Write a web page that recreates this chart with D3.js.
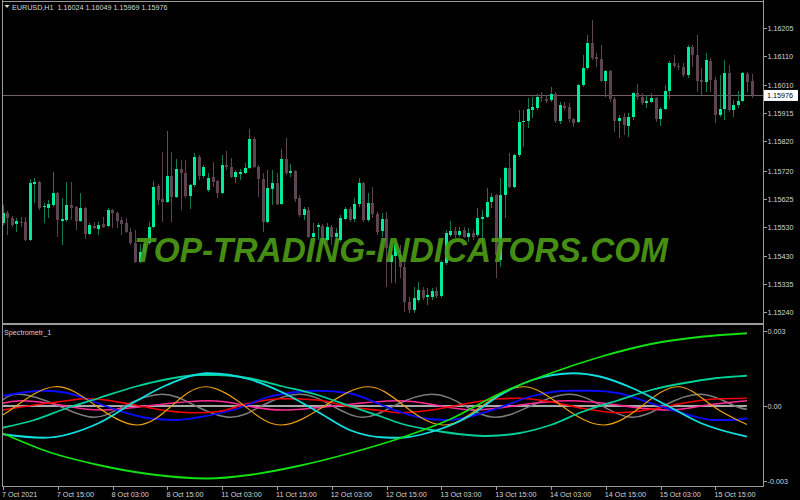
<!DOCTYPE html>
<meta charset="utf-8">
<style>
 body { margin: 0; background: #000; }
 svg { display: block; }
 .axis text { fill: #d6d6d6; font: 7.2px "Liberation Sans", Arial, sans-serif; }
 .axis line { stroke: #a0a0a0; shape-rendering: crispEdges; }
 .axis path { display: none; }
 .frame { stroke: #9a9a9a; shape-rendering: crispEdges; }
 .series { fill: none; }
</style>
<body>
<script src="https://d3js.org/d3.v7.min.js"></script>
<script>
// EURUSD H1 bars (oldest first)
var open = [1.15542,1.15576,1.15559,1.15538,1.15545,1.15545,1.15484,1.15674,1.15681,1.15596,
  1.15593,1.15603,1.15644,1.15549,1.15552,1.15603,1.15596,1.15549,1.15593,1.15504,
  1.15532,1.15521,1.15538,1.15532,1.15586,1.15576,1.15552,1.15542,1.15511,1.15474,
  1.15409,1.15443,1.15474,1.15528,1.15668,1.15623,1.15613,1.15702,1.15630,1.15725,
  1.15712,1.15634,1.15671,1.15766,1.15702,1.15654,1.15698,1.15685,1.15644,1.15739,
  1.15732,1.15698,1.15708,1.15712,1.15729,1.15827,1.15732,1.15691,1.15545,1.15657,
  1.15678,1.15606,1.15759,1.15712,1.15719,1.15627,1.15569,1.15586,1.15494,1.15528,
  1.15532,1.15484,1.15528,1.15494,1.15484,1.15555,1.15589,1.15555,1.15606,1.15678,
  1.15552,1.15610,1.15572,1.15515,1.15555,1.15409,1.15430,1.15433,1.15392,1.15273,
  1.15246,1.15283,1.15317,1.15290,1.15290,1.15311,1.15294,1.15406,1.15501,1.15515,
  1.15501,1.15518,1.15494,1.15508,1.15501,1.15555,1.15562,1.15613,1.15637,1.15416,
  1.15637,1.15729,1.15664,1.15773,1.15885,1.15889,1.15926,1.15933,1.15970,1.15963,
  1.15960,1.15980,1.15889,1.15940,1.15936,1.15895,1.15885,1.16011,1.16069,1.16154,
  1.16106,1.16099,1.16025,1.16059,1.15963,1.15889,1.15902,1.15872,1.15902,1.15984,
  1.15970,1.15950,1.15953,1.15967,1.15895,1.15929,1.15991,1.16086,1.16076,1.16072,
  1.16045,1.16140,1.16113,1.16028,1.16021,1.16093,1.16028,1.15909,1.15929,1.16052,
  1.15926,1.15943,1.15957,1.16048,1.16024];
var high = [1.15603,1.15583,1.15566,1.15559,1.15562,1.15562,1.15691,1.15695,1.15685,1.15610,
  1.15620,1.15715,1.15647,1.15627,1.15681,1.15681,1.15600,1.15644,1.15596,1.15542,
  1.15545,1.15545,1.15562,1.15593,1.15589,1.15579,1.15562,1.15559,1.15525,1.15518,
  1.15470,1.15491,1.15545,1.15685,1.15674,1.15783,1.15855,1.15783,1.15759,1.15756,
  1.15756,1.15674,1.15780,1.15773,1.15739,1.15712,1.15749,1.15688,1.15773,1.15787,
  1.15763,1.15722,1.15725,1.15746,1.15861,1.15834,1.15739,1.15712,1.15722,1.15722,
  1.15712,1.15793,1.15831,1.15742,1.15722,1.15637,1.15596,1.15596,1.15542,1.15542,
  1.15538,1.15542,1.15535,1.15525,1.15569,1.15596,1.15596,1.15627,1.15695,1.15681,
  1.15644,1.15664,1.15579,1.15576,1.15579,1.15457,1.15477,1.15467,1.15409,1.15290,
  1.15324,1.15341,1.15324,1.15321,1.15321,1.15324,1.15416,1.15518,1.15549,1.15528,
  1.15528,1.15528,1.15525,1.15518,1.15593,1.15586,1.15661,1.15644,1.15640,1.15695,
  1.15732,1.15780,1.15776,1.15926,1.15926,1.15967,1.15970,1.15980,1.15987,1.15977,
  1.16004,1.15987,1.15953,1.15953,1.15950,1.15899,1.16014,1.16113,1.16181,1.16232,
  1.16120,1.16147,1.16062,1.16062,1.15970,1.15909,1.15916,1.15916,1.15987,1.16014,
  1.15984,1.15977,1.15984,1.15970,1.15936,1.16011,1.16093,1.16113,1.16086,1.16086,
  1.16147,1.16147,1.16181,1.16069,1.16120,1.16103,1.16038,1.16045,1.16096,1.16079,
  1.15960,1.15991,1.16055,1.16055,1.16049];
var low = [1.15535,1.15501,1.15528,1.15511,1.15528,1.15481,1.15481,1.15610,1.15586,1.15542,
  1.15559,1.15596,1.15494,1.15467,1.15545,1.15552,1.15518,1.15545,1.15487,1.15501,
  1.15521,1.15501,1.15525,1.15528,1.15525,1.15525,1.15501,1.15508,1.15467,1.15406,
  1.15406,1.15430,1.15467,1.15525,1.15603,1.15545,1.15610,1.15545,1.15627,1.15586,
  1.15627,1.15589,1.15664,1.15688,1.15695,1.15647,1.15664,1.15627,1.15640,1.15722,
  1.15695,1.15678,1.15688,1.15708,1.15725,1.15729,1.15630,1.15511,1.15542,1.15603,
  1.15603,1.15603,1.15705,1.15698,1.15613,1.15562,1.15552,1.15491,1.15484,1.15484,
  1.15467,1.15477,1.15467,1.15477,1.15477,1.15552,1.15545,1.15545,1.15596,1.15545,
  1.15545,1.15559,1.15501,1.15494,1.15324,1.15338,1.15338,1.15355,1.15239,1.15236,
  1.15236,1.15273,1.15280,1.15263,1.15280,1.15287,1.15287,1.15399,1.15494,1.15491,
  1.15494,1.15491,1.15477,1.15484,1.15494,1.15467,1.15559,1.15593,1.15355,1.15392,
  1.15559,1.15661,1.15661,1.15766,1.15800,1.15865,1.15899,1.15926,1.15953,1.15950,
  1.15953,1.15882,1.15878,1.15926,1.15885,1.15868,1.15882,1.16004,1.16062,1.16096,
  1.16072,1.16021,1.15970,1.15953,1.15851,1.15831,1.15841,1.15834,1.15892,1.15960,
  1.15943,1.15933,1.15950,1.15885,1.15872,1.15926,1.15963,1.16069,1.16062,1.16038,
  1.16035,1.16072,1.15987,1.15977,1.15987,1.15987,1.15882,1.15902,1.15892,1.15919,
  1.15902,1.15933,1.15953,1.15987,1.15969];
var close = [1.15576,1.15559,1.15535,1.15549,1.15542,1.15484,1.15678,1.15681,1.15593,1.15600,
  1.15606,1.15644,1.15552,1.15555,1.15603,1.15593,1.15549,1.15593,1.15504,1.15535,
  1.15525,1.15535,1.15528,1.15586,1.15576,1.15549,1.15538,1.15511,1.15474,1.15409,
  1.15443,1.15470,1.15528,1.15664,1.15620,1.15613,1.15702,1.15630,1.15725,1.15712,
  1.15634,1.15671,1.15766,1.15702,1.15732,1.15695,1.15681,1.15644,1.15739,1.15732,
  1.15698,1.15715,1.15715,1.15729,1.15827,1.15732,1.15691,1.15545,1.15661,1.15678,
  1.15606,1.15759,1.15712,1.15719,1.15623,1.15569,1.15589,1.15494,1.15508,1.15535,
  1.15484,1.15528,1.15494,1.15508,1.15559,1.15589,1.15552,1.15606,1.15678,1.15552,
  1.15610,1.15572,1.15511,1.15555,1.15457,1.15433,1.15470,1.15392,1.15273,1.15246,
  1.15287,1.15317,1.15287,1.15297,1.15311,1.15294,1.15409,1.15508,1.15515,1.15501,
  1.15515,1.15494,1.15508,1.15494,1.15559,1.15562,1.15613,1.15630,1.15433,1.15637,
  1.15729,1.15664,1.15773,1.15885,1.15889,1.15929,1.15936,1.15970,1.15967,1.15957,
  1.15980,1.15889,1.15943,1.15933,1.15895,1.15882,1.16011,1.16069,1.16154,1.16103,
  1.16099,1.16025,1.16059,1.15963,1.15889,1.15899,1.15875,1.15902,1.15984,1.15970,
  1.15950,1.15957,1.15967,1.15895,1.15929,1.15991,1.16086,1.16076,1.16072,1.16045,
  1.16140,1.16113,1.16025,1.16021,1.16096,1.16028,1.15909,1.15929,1.16052,1.15926,
  1.15943,1.15957,1.16052,1.16021,1.15976];

var timeLabels = ["7 Oct 2021", "7 Oct 15:00", "8 Oct 03:00", "8 Oct 15:00", "11 Oct 03:00",
  "11 Oct 15:00", "12 Oct 03:00", "12 Oct 15:00", "13 Oct 03:00", "13 Oct 15:00",
  "14 Oct 03:00", "14 Oct 15:00", "15 Oct 03:00", "15 Oct 15:00"];
var timeTickBars = [0, 12, 24, 36, 48, 60, 72, 84, 96, 108, 120, 132, 144, 156];
var priceTicks = [1.16205, 1.16110, 1.16010, 1.15915, 1.15820, 1.15720, 1.15625,
  1.15530, 1.15430, 1.15335, 1.15240];
var indTicks = [0.003, 0, -0.003];
var indTickLabels = ["0.003", "0.00", "-0.003"];

// Spectrometr_1 components as [bar, value]
var lime = [[0,-0.00109],[10,-0.00183],[21,-0.00236],[32,-0.00272],[45,-0.00290],[54,-0.00276],
  [65,-0.00239],[76,-0.00189],[87,-0.00129],[98,-0.00053],[109,0.00051],[120,0.00131],
  [131,0.00197],[142,0.00248],[153,0.00277],[163,0.00291]];
var cyan = [[0,-0.00113],[9,-0.00127],[21,-0.00069],[29,0.00017],[36,0.00084],[45,0.00131],
  [54,0.00107],[61,0.00057],[69,-0.00023],[76,-0.00096],[83,-0.00125],[87,-0.00127],
  [94,-0.00103],[102,-0.00043],[109,0.00044],[116,0.00104],[125,0.00131],[131,0.00117],
  [138,0.00071],[146,-0.00003],[153,-0.00069],[163,-0.00123]];
var teal = [[0,-0.00087],[7,-0.00056],[14,-0.00009],[21,0.00031],[29,0.00077],[36,0.00107],
  [43,0.00124],[47,0.00124],[54,0.00111],[61,0.00080],[69,0.00044],[76,0.00000],
  [83,-0.00043],[87,-0.00069],[94,-0.00096],[102,-0.00116],[106,-0.00120],[113,-0.00109],
  [120,-0.00076],[127,-0.00023],[135,0.00024],[142,0.00064],[149,0.00091],[156,0.00111],
  [163,0.00121]];
var blue = [[0,0.00040],[9,0.00061],[14,0.00053],[19,0.00024],[25,-0.00016],[32,-0.00049],
  [38,-0.00056],[43,-0.00045],[51,-0.00013],[58,0.00035],[65,0.00057],[69,0.00061],
  [76,0.00051],[83,0.00004],[87,-0.00024],[94,-0.00053],[98,-0.00056],[102,-0.00043],
  [109,-0.00005],[116,0.00040],[124,0.00061],[129,0.00061],[135,0.00051],[142,0.00011],
  [149,-0.00029],[156,-0.00056],[160,-0.00056],[163,-0.00049]];
var red = [[0,-0.00016],[7,0.00004],[14,0.00021],[18,0.00029],[21,0.00027],[29,0.00004],
  [36,-0.00019],[42,-0.00027],[47,-0.00023],[54,0.00011],[61,0.00029],[69,0.00024],
  [76,-0.00003],[83,-0.00019],[87,-0.00027],[94,-0.00016],[102,0.00011],[109,0.00029],
  [113,0.00031],[120,0.00017],[127,-0.00009],[135,-0.00027],[142,-0.00013],[149,0.00011],
  [156,0.00028],[163,0.00031]];
var pink = [[0,0.00011],[4.5,0.00021],[13,0.00003],[21.5,-0.00016],[33,0.00003],[45,0.00021],
  [53,0.00003],[61.5,-0.00016],[74,0.00003],[86.5,0.00021],[95,0.00003],[103.5,-0.00016],
  [113,0.00003],[124,0.00021],[135,0.00003],[145.5,-0.00016],[154,0.00003],[163,0.00021]];
var gray = [[0,0.00024],[4,0.00047],[12,0.00003],[20,-0.00045],[27,0.00003],[35,0.00047],
  [42,0.00003],[50,-0.00045],[57,0.00003],[65,0.00047],[72,0.00003],[79,-0.00045],
  [86,0.00003],[94,0.00047],[101,0.00003],[108,-0.00045],[116,0.00003],[124,0.00047],
  [131,0.00003],[138,-0.00045],[145,0.00003],[153,0.00047],[160,0.00003],[163,-0.00013]];
var orange = [[0,-0.00036],[3,0.00000],[11.5,0.00077],[20.5,0.00000],[29.5,-0.00076],[37,0.00000],
  [44.5,0.00077],[53,0.00000],[61,-0.00076],[70.5,0.00000],[80,0.00077],[88,0.00000],
  [96.5,-0.00076],[105,0.00000],[114,0.00077],[122.5,0.00000],[131.5,-0.00076],[140,0.00000],
  [148,0.00077],[155.5,0.00000],[163,-0.00074]];
var zero = [[0,0],[163,0]];

// Layout
var W = 800, H = 500;
var left = 2, right = 763, mainTop = 1.5, mainBottom = 323, subTop = 325, subBottom = 486;

var svg = d3.select("body").append("svg")
  .attr("width", W)
  .attr("height", H)
  .style("background", "#000");

// Scales
var x = d3.scaleLinear().domain([0, 164]).range([2.5, 751.5]);
var y = d3.scaleLinear().domain([1.15240, 1.16205]).range([312.2, 28]);
var yi = d3.scaleLinear().domain([-0.003, 0.003]).range([481, 331]);

svg.append("clipPath").attr("id", "clipMain")
  .append("rect").attr("x", left).attr("y", mainTop).attr("width", right - left).attr("height", mainBottom - mainTop);
svg.append("clipPath").attr("id", "clipSub")
  .append("rect").attr("x", left).attr("y", subTop).attr("width", right - left).attr("height", subBottom - subTop);

var main = svg.append("g").attr("clip-path", "url(#clipMain)");
var sub = svg.append("g").attr("clip-path", "url(#clipSub)");

// Bid line
var lastPrice = close[close.length - 1];
main.append("line")
  .attr("x1", left).attr("x2", right)
  .attr("y1", Math.round(y(lastPrice)) + 0.5).attr("y2", Math.round(y(lastPrice)) + 0.5)
  .attr("stroke", "#70606a");

// Candles
var bullBody = "#00ec9c", bullWick = "#137a4f", bear = "#5e4353";
var bars = d3.range(close.length);
var candle = main.selectAll(".candle")
  .data(bars)
  .enter().append("g")
  .attr("class", "candle")
  .attr("shape-rendering", "crispEdges");

candle.append("line")
  .attr("x1", function (i) { return Math.round(x(i)) + 0.5; })
  .attr("x2", function (i) { return Math.round(x(i)) + 0.5; })
  .attr("y1", function (i) { return y(high[i]); })
  .attr("y2", function (i) { return y(low[i]); })
  .attr("stroke", function (i) { return close[i] >= open[i] ? bullWick : bear; });

candle.append("rect")
  .attr("x", function (i) { return Math.round(x(i)) - 1; })
  .attr("width", 3)
  .attr("y", function (i) { return y(Math.max(open[i], close[i])); })
  .attr("height", function (i) { return Math.max(1, Math.abs(y(open[i]) - y(close[i]))); })
  .attr("fill", function (i) { return close[i] >= open[i] ? bullBody : bear; });

// Watermark
svg.append("text")
  .attr("x", 134)
  .attr("y", 262)
  .attr("textLength", 534)
  .attr("lengthAdjust", "spacingAndGlyphs")
  .style("font", "italic bold 35px 'Liberation Sans', Arial, sans-serif")
  .style("fill", "#4c9a15")
  .style("opacity", 0.92)
  .text("TOP-TRADING-INDICATORS.COM");

// Indicator lines
var line = d3.line()
  .x(function (d) { return x(d[0]); })
  .y(function (d) { return yi(d[1]); });

var series = [
  { data: zero, color: "#a8a8a8", width: 2, curve: d3.curveLinear },
  { data: gray, color: "#7c7c7c", width: 1.5, curve: d3.curveNatural },
  { data: pink, color: "#ff2a95", width: 1.6, curve: d3.curveNatural },
  { data: red, color: "#f20000", width: 1.6, curve: d3.curveMonotoneX },
  { data: blue, color: "#0a0aff", width: 1.8, curve: d3.curveMonotoneX },
  { data: orange, color: "#e9a010", width: 1.2, curve: d3.curveNatural },
  { data: teal, color: "#00cf98", width: 1.8, curve: d3.curveMonotoneX },
  { data: cyan, color: "#10e0e0", width: 1.8, curve: d3.curveMonotoneX },
  { data: lime, color: "#12e012", width: 1.8, curve: d3.curveMonotoneX }
];

sub.selectAll(".series")
  .data(series)
  .enter().append("path")
  .attr("class", "series")
  .attr("stroke", function (s) { return s.color; })
  .attr("stroke-width", function (s) { return s.width; })
  .attr("d", function (s) { return line.curve(s.curve)(s.data); });

// Frame and panel separator
svg.append("line").attr("class", "frame").attr("x1", left).attr("x2", left).attr("y1", 0).attr("y2", subBottom);
svg.append("line").attr("class", "frame").attr("x1", right + 0.5).attr("x2", right + 0.5).attr("y1", 0).attr("y2", subBottom);
svg.append("line").attr("class", "frame").attr("x1", left).attr("x2", right).attr("y1", mainTop).attr("y2", mainTop);
svg.append("line").attr("class", "frame").attr("x1", left).attr("x2", right).attr("y1", 324).attr("y2", 324)
  .attr("stroke-width", 2);
svg.append("line").attr("class", "frame").attr("x1", left).attr("x2", right + 0.5).attr("y1", subBottom + 0.5).attr("y2", subBottom + 0.5);

// Price axis
svg.append("g")
  .attr("class", "axis")
  .attr("transform", "translate(" + (right + 0.5) + ",0)")
  .call(d3.axisRight(y).tickValues(priceTicks).tickSize(3).tickPadding(1)
    .tickFormat(d3.format(".5f")));

// Current price box
svg.append("rect")
  .attr("x", right + 1).attr("y", y(lastPrice) - 5.5)
  .attr("width", 34).attr("height", 11)
  .attr("fill", "#fff");
svg.append("text")
  .attr("x", right + 4).attr("y", y(lastPrice) + 2.6)
  .style("font", "7.2px 'Liberation Sans', Arial, sans-serif")
  .style("fill", "#000")
  .text(d3.format(".5f")(lastPrice));

// Indicator axis
svg.append("g")
  .attr("class", "axis")
  .attr("transform", "translate(" + (right + 0.5) + ",0)")
  .call(d3.axisRight(yi).tickValues(indTicks).tickSize(3).tickPadding(1)
    .tickFormat(function (d, i) { return indTickLabels[i]; }));

// Time axis
var xAxis = svg.append("g")
  .attr("class", "axis")
  .attr("transform", "translate(0," + (subBottom + 0.5) + ")")
  .call(d3.axisBottom(x).tickValues(timeTickBars).tickSize(3).tickPadding(2)
    .tickFormat(function (d, i) { return timeLabels[i]; }));
xAxis.selectAll(".tick line").attr("transform", "translate(0.5,0)");
xAxis.selectAll("text").attr("text-anchor", "start").attr("x", -1);

// Header and sub window title
svg.append("path")
  .attr("d", "M4.5,5 L9.5,5 L7,8 Z")
  .attr("fill", "#d6d6d6");
svg.append("text")
  .attr("x", 12).attr("y", 10)
  .style("font", "7.2px 'Liberation Sans', Arial, sans-serif")
  .style("fill", "#d6d6d6")
  .attr("xml:space", "preserve")
  .text("EURUSD,H1  1.16024 1.16049 1.15969 1.15976");
svg.append("text")
  .attr("x", 4).attr("y", 334.5)
  .style("font", "7.2px 'Liberation Sans', Arial, sans-serif")
  .style("fill", "#dccfd8")
  .text("Spectrometr_1");
</script>
</body>
